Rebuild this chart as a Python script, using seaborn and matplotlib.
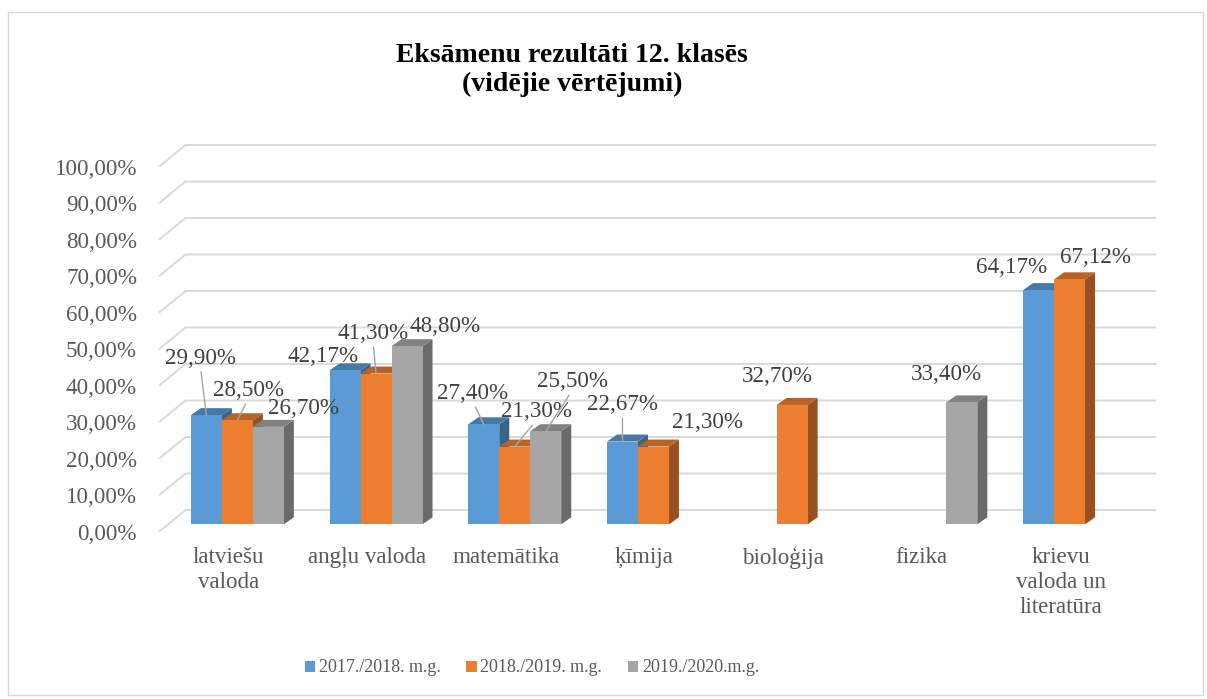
import numpy as np
import pandas as pd
import matplotlib
matplotlib.use("Agg")
import matplotlib.pyplot as plt
import seaborn as sns
from matplotlib.patches import Polygon, Rectangle
from matplotlib.lines import Line2D
from matplotlib.transforms import ScaledTranslation

# ---- data -------------------------------------------------------------
categories = ["latviešu\nvaloda", "angļu valoda", "matemātika", "ķīmija",
              "bioloģija", "fizika", "krievu\nvaloda un\nliteratūra"]
periods = ["2017./2018. m.g.", "2018./2019. m.g.", "2019./2020.m.g."]
vals_2017_18 = [29.90, 42.17, 27.40, 22.67, np.nan, np.nan, 64.17]
vals_2018_19 = [28.50, 41.30, 21.30, 21.30, 32.70, np.nan, 67.12]
vals_2019_20 = [26.70, 48.80, 25.50, np.nan, np.nan, 33.40, np.nan]
yticks = list(range(0, 101, 10))
ytick_labels = [f"{t},00%" for t in yticks]

title = "Eksāmenu rezultāti 12. klasēs\n(vidējie vērtējumi)"

# ---- styling ----------------------------------------------------------
palette = ["#5B9BD5", "#ED7D31", "#A5A5A5"]
grid_color = "#D9D9D9"
tick_color = "#595959"
label_color = "#404040"
leader_color = "#A6A6A6"

# label placement: (series, category) -> (dx px, dy px up, draw leader line)
label_pos = {
    (0, 0): (-6, 57, True),  (1, 0): (11, 30, True),  (2, 0): (35, 18, False),
    (0, 1): (-22, 14, False), (1, 1): (-3, 40, True), (2, 1): (38, 20, False),
    (0, 2): (-11, 31, True), (1, 2): (22, 35, True),  (2, 2): (27, 50, True),
    (0, 3): (0, 37, True),   (1, 3): (54, 24, False),
    (1, 4): (-15, 28, False),
    (2, 5): (-15, 28, False),
    (0, 6): (-27, 23, False), (1, 6): (26, 22, False),
}

sns.set_style("white")
plt.rcParams["font.family"] = ["Liberation Serif", "DejaVu Serif"]

DPI = 100
fig = plt.figure(figsize=(12.07, 6.99), dpi=DPI)
W, H = 1207, 699
ax = fig.add_axes([168 / W, (H - 524.3) / H, 970.9 / W, 365 / H])

df = pd.DataFrame({
    "category": categories * 3,
    "period": np.repeat(periods, len(categories)),
    "value": vals_2017_18 + vals_2018_19 + vals_2019_20,
}).dropna()

sns.barplot(data=df, x="category", y="value", hue="period",
            order=categories, hue_order=periods, palette=palette,
            width=0.67, errorbar=None, linewidth=0, saturation=1, ax=ax)

ax.set_xlim(-0.5, len(categories) - 0.5)
ax.set_ylim(0, 100)
ax.set_xlabel("")
ax.set_ylabel("")
for s in ax.spines.values():
    s.set_visible(False)
ax.grid(False)

px_x = ax.bbox.width / len(categories)
px_y = ax.bbox.height / 100.0

# depth offsets (pixels)
bar_dx, bar_dy = 10, 7
front_dx, front_dy = -9, -7.4
back_dx, back_dy = 17.5, 14.3

# back-wall grid lines with their floor diagonals
x_left, x_right = -0.5, len(categories) - 0.5
for v in yticks:
    xs = [x_left + front_dx / px_x, x_left + back_dx / px_x, x_right + back_dx / px_x]
    ys = [v + front_dy / px_y, v + back_dy / px_y, v + back_dy / px_y]
    ax.add_line(Line2D(xs, ys, color=grid_color, lw=1.4, zorder=0.5,
                       clip_on=False, solid_capstyle="butt"))


def shade(c, f):
    r, g, b = matplotlib.colors.to_rgb(c)
    return (r * f, g * f, b * f)


# 3D faces for each bar, painted left to right
bars = []
for k, cont in enumerate(ax.containers):
    for p in cont.patches:
        h = p.get_height()
        if h is None or not np.isfinite(h) or h <= 0:
            continue
        bars.append((p.get_x(), k, p))
bars.sort(key=lambda t: t[0])

ddx = bar_dx / px_x
ddy = bar_dy / px_y
for n, (_, k, p) in enumerate(bars):
    x0, w, h = p.get_x(), p.get_width(), p.get_height()
    base = 2 + n * 0.01
    col = palette[k]
    top = Polygon([(x0, h), (x0 + w, h), (x0 + w + ddx, h + ddy), (x0 + ddx, h + ddy)],
                  closed=True, facecolor=shade(col, 0.78), edgecolor="none",
                  zorder=base, clip_on=False)
    side = Polygon([(x0 + w, 0), (x0 + w, h), (x0 + w + ddx, h + ddy), (x0 + w + ddx, ddy)],
                   closed=True, facecolor=shade(col, 0.64), edgecolor="none",
                   zorder=base, clip_on=False)
    ax.add_patch(side)
    ax.add_patch(top)
    p.set_zorder(base + 0.005)
    p.set_clip_on(False)

    cat = min(range(len(categories)), key=lambda i: abs(i - (x0 + w / 2)))
    dx, dy, leader = label_pos.get((k, cat), (0, 20, False))
    txt = f"{h:.2f}".replace(".", ",") + "%"
    kw = {}
    if leader:
        kw["arrowprops"] = dict(arrowstyle="-", color=leader_color, lw=1.0,
                                shrinkA=0, shrinkB=0, relpos=(0.5, 0.1))
    ax.annotate(txt, xy=(x0 + w / 2, h), xytext=(dx, dy), textcoords="offset pixels",
                ha="center", va="center", fontsize=16.6, color=label_color,
                zorder=10, annotation_clip=False, **kw)

# axis tick labels
ax.set_yticks(yticks, labels=ytick_labels)
ax.tick_params(axis="y", length=0, pad=22.3, labelsize=16.6, labelcolor=tick_color)
for lbl in ax.get_yticklabels():
    lbl.set_transform(lbl.get_transform() + ScaledTranslation(0, -7.4 / DPI, fig.dpi_scale_trans))
ax.tick_params(axis="x", length=0, pad=16.0, labelsize=16.6, labelcolor=tick_color)
for lbl in ax.get_xticklabels():
    lbl.set_linespacing(1.25)
    lbl.set_transform(lbl.get_transform() + ScaledTranslation(-9 / DPI, 0, fig.dpi_scale_trans))

# legend
sns.move_legend(ax, loc="center", bbox_to_anchor=(532 / W, (H - 668) / H),
                bbox_transform=fig.transFigure, ncol=3, frameon=False, title=None,
                fontsize=13, handlelength=0.56, handleheight=0.56,
                handletextpad=0.2, columnspacing=1.45, labelcolor=tick_color)

# title
fig.text(572 / W, (H - 70) / H, title, ha="center", va="center",
         fontsize=20, fontweight="bold", color="black", linespacing=1.22)

# chart frame
fig.patches.append(Rectangle((7.5 / W, 4 / H), (1203 - 7.5) / W, (687 - 4) / H,
                             transform=fig.transFigure, fill=False,
                             edgecolor=grid_color, lw=1.0))

fig.savefig("out.png", dpi=DPI, facecolor="white")
